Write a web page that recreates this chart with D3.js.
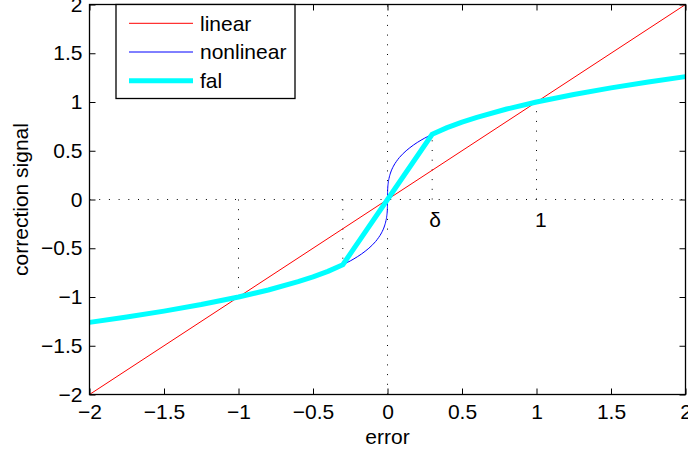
<!DOCTYPE html>
<html>
<head>
<meta charset="utf-8">
<script src="https://cdn.jsdelivr.net/npm/d3@7"></script>
<style>
  body { margin: 0; background: #fff; }
  text { font-family: "Liberation Sans", Arial, Helvetica, sans-serif; fill: #000; }
</style>
</head>
<body>
<div class="chart"></div>
<script>
// tick values
var errorTicks = [-2, -1.5, -1, -0.5, 0, 0.5, 1, 1.5, 2];
var signalTicks = [-2, -1.5, -1, -0.5, 0, 0.5, 1, 1.5, 2];

// linear correction
var linearX = [-2, 2];
var linearY = [-2, 2];

// nonlinear correction
var nonlinX = [-2, -1.75, -1.5, -1.25, -1, -0.75, -0.5, -0.4, -0.3, -0.25, -0.2, -0.15, -0.1, -0.08, -0.06, -0.04, -0.02, -0.01, -0.005, -0.001, 0,
               0.001, 0.005, 0.01, 0.02, 0.04, 0.06, 0.08, 0.1, 0.15, 0.2, 0.25, 0.3, 0.4, 0.5, 0.75, 1, 1.25, 1.5, 1.75, 2];
var nonlinY = [-1.26, -1.205, -1.145, -1.077, -1, -0.909, -0.794, -0.737, -0.669, -0.63, -0.585, -0.531, -0.464, -0.431, -0.391, -0.342, -0.271, -0.215, -0.171, -0.1, 0,
               0.1, 0.171, 0.215, 0.271, 0.342, 0.391, 0.431, 0.464, 0.531, 0.585, 0.63, 0.669, 0.737, 0.794, 0.909, 1, 1.077, 1.145, 1.205, 1.26];

// fal (cyan, thick)
var falX = [-2, -1.75, -1.5, -1.25, -1, -0.8, -0.6, -0.5, -0.4, -0.3, 0, 0.3, 0.4, 0.5, 0.6, 0.8, 1, 1.25, 1.5, 1.75, 2];
var falY = [-1.26, -1.205, -1.145, -1.077, -1, -0.928, -0.843, -0.794, -0.737, -0.669, 0, 0.669, 0.737, 0.794, 0.843, 0.928, 1, 1.077, 1.145, 1.205, 1.26];

// dotted drop lines
var dropX = [-1, -0.3, 0.3, 1];
var dropY = [-1, -0.669, 0.669, 1];

// annotations
var noteText = ['\u03b4', '1'];
var noteX = [0.28, 0.99];
var noteY = [-0.21, -0.21];

var legendNames = ['linear', 'nonlinear', 'fal'];
var legendColors = ['#ff0000', '#0000ff', '#00ffff'];
var legendWidths = [1, 1, 5];

var W = 688, H = 452;
var margin = { top: 4.5, right: 2.5, bottom: 57.5, left: 89.5 };
var width = W - margin.left - margin.right;
var height = H - margin.top - margin.bottom;
var fs = '21px';

var svg = d3.select('.chart')
  .append('svg')
  .attr('width', W)
  .attr('height', H);

var g = svg.append('g')
  .attr('transform', `translate(${margin.left},${margin.top})`);

var x = d3.scaleLinear().domain([-2, 2]).range([0, width]);
var y = d3.scaleLinear().domain([-2, 2]).range([height, 0]);

var fmt = d => (d < 0 ? '\u2212' : '') + Math.abs(d);

// dotted reference lines
var dots = g.append('g')
  .attr('stroke', '#000')
  .attr('stroke-width', 1)
  .attr('stroke-dasharray', '1,8.7')
  .attr('fill', 'none');

dots.append('line')
  .attr('x1', x(-2)).attr('x2', x(2))
  .attr('y1', y(0)).attr('y2', y(0));
dots.append('line')
  .attr('x1', x(0)).attr('x2', x(0))
  .attr('y1', y(-2)).attr('y2', y(2));
dots.selectAll('.drop')
  .data(dropX)
  .enter()
  .append('line')
  .attr('class', 'drop')
  .attr('x1', d => x(d)).attr('x2', d => x(d))
  .attr('y1', y(0))
  .attr('y2', (d, i) => y(dropY[i]));

// curves
var line = d3.line()
  .x(d => x(d[0]))
  .y(d => y(d[1]));

g.append('path')
  .datum(d3.zip(linearX, linearY))
  .attr('d', line)
  .attr('fill', 'none')
  .attr('stroke', legendColors[0])
  .attr('stroke-width', legendWidths[0]);

g.append('path')
  .datum(d3.zip(nonlinX, nonlinY))
  .attr('d', line.curve(d3.curveMonotoneX))
  .attr('fill', 'none')
  .attr('stroke', legendColors[1])
  .attr('stroke-width', legendWidths[1]);

g.append('path')
  .datum(d3.zip(falX, falY))
  .attr('d', line.curve(d3.curveLinear))
  .attr('fill', 'none')
  .attr('stroke', legendColors[2])
  .attr('stroke-width', legendWidths[2])
  .attr('stroke-linejoin', 'round');

// annotations
g.selectAll('.note')
  .data(noteText)
  .enter()
  .append('text')
  .attr('class', 'note')
  .attr('x', (d, i) => x(noteX[i]))
  .attr('y', (d, i) => y(noteY[i]))
  .attr('dy', '0.35em')
  .style('font-size', fs)
  .text(d => d);

// axes with inward ticks on all four sides
var tickLen = 6;
g.append('g')
  .attr('transform', `translate(0,${height})`)
  .call(d3.axisBottom(x).tickValues(errorTicks).tickSizeInner(-tickLen).tickSizeOuter(0).tickPadding(10).tickFormat(fmt));
g.append('g')
  .call(d3.axisTop(x).tickValues(errorTicks).tickSizeInner(-tickLen).tickSizeOuter(0).tickFormat(''));
g.append('g')
  .call(d3.axisLeft(y).tickValues(signalTicks).tickSizeInner(-tickLen).tickSizeOuter(0).tickPadding(7).tickFormat(fmt));
g.append('g')
  .attr('transform', `translate(${width},0)`)
  .call(d3.axisRight(y).tickValues(signalTicks).tickSizeInner(-tickLen).tickSizeOuter(0).tickFormat(''));

g.selectAll('.domain').remove();
g.selectAll('.tick line').attr('stroke', '#000');
g.selectAll('.tick text').style('font-size', fs).attr('fill', '#000');

g.append('rect')
  .attr('width', width)
  .attr('height', height)
  .attr('fill', 'none')
  .attr('stroke', '#000')
  .attr('stroke-width', 1.3);

// axis labels
svg.append('text')
  .attr('x', margin.left + x(0))
  .attr('y', 444)
  .attr('text-anchor', 'middle')
  .style('font-size', fs)
  .text('error');

svg.append('text')
  .attr('transform', `translate(28,${margin.top + y(0)}) rotate(-90)`)
  .attr('text-anchor', 'middle')
  .style('font-size', fs)
  .text('correction signal');

// legend
var leg = svg.append('g');
leg.append('rect')
  .attr('x', 116).attr('y', 4.5)
  .attr('width', 179).attr('height', 94)
  .attr('fill', '#fff')
  .attr('stroke', '#000')
  .attr('stroke-width', 1.3);

var rows = leg.selectAll('.row')
  .data(legendNames)
  .enter()
  .append('g')
  .attr('class', 'row')
  .attr('transform', (d, i) => `translate(0,${23.3 + i * 28.7})`);
rows.append('line')
  .attr('x1', 129).attr('x2', 193)
  .attr('stroke', (d, i) => legendColors[i])
  .attr('stroke-width', (d, i) => legendWidths[i]);
rows.append('text')
  .attr('x', 200)
  .attr('dy', '0.35em')
  .style('font-size', fs)
  .text(d => d);
</script>
</body>
</html>
